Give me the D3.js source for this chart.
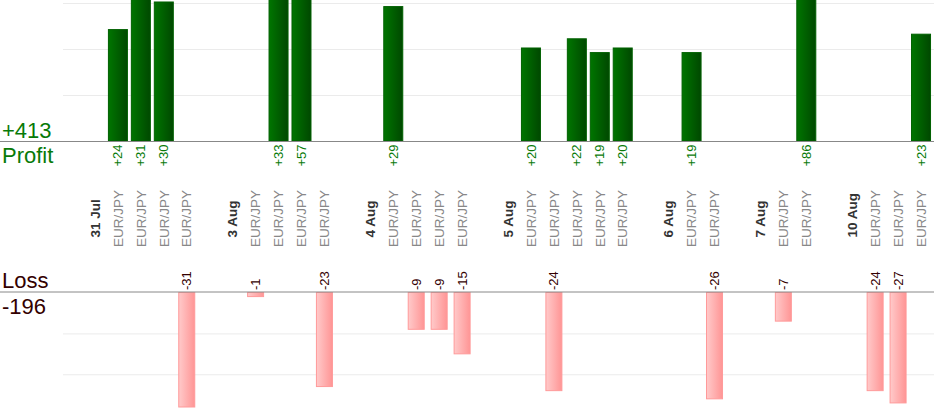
<!DOCTYPE html>
<html>
<head>
<meta charset="utf-8">
<script src="https://cdn.jsdelivr.net/npm/d3@7"></script>
<style>
  html, body { margin: 0; padding: 0; background: #fff; }
  svg { display: block; font-family: "Liberation Sans", Arial, sans-serif; }
</style>
</head>
<body>
<div id="chart"></div>
<script>
// one slot per column: date header, trades, empty spacer
const slotLabels = [
    '31 Jul', 'EUR/JPY', 'EUR/JPY', 'EUR/JPY', 'EUR/JPY', '',
    '3 Aug', 'EUR/JPY', 'EUR/JPY', 'EUR/JPY', 'EUR/JPY', '',
    '4 Aug', 'EUR/JPY', 'EUR/JPY', 'EUR/JPY', 'EUR/JPY', '',
    '5 Aug', 'EUR/JPY', 'EUR/JPY', 'EUR/JPY', 'EUR/JPY', 'EUR/JPY', '',
    '6 Aug', 'EUR/JPY', 'EUR/JPY', '',
    '7 Aug', 'EUR/JPY', 'EUR/JPY', '',
    '10 Aug', 'EUR/JPY', 'EUR/JPY', 'EUR/JPY'
]

// result of each trade (null = no trade in this slot)
const results = [
    null, 24, 31, 30, -31, null,
    null, -1, 33, 57, -23, null,
    null, 29, -9, -9, -15, null,
    null, 20, -24, 22, 19, 20, null,
    null, 19, -26, null,
    null, -7, 86, null,
    null, -24, -27, 23
]

const profitTicks = [10, 20, 30]
const lossTicks = [10, 20]

const width = 934
const height = 420

const svg = d3.select('#chart')
    .append('svg')
    .attr('width', width)
    .attr('height', height)

////////////////////////////////////
//////////////scales////////////////
////////////////////////////////////
const xScale = d3.scaleBand()
    .domain(d3.range(slotLabels.length))
    .range([83.5, 932.5])

const profitY = d3.scaleLinear()
    .domain([0, 30.65])
    .range([141, 0])
    .clamp(true)

const lossY = d3.scaleLinear()
    .domain([0, 28])
    .range([292.5, 407])
    .clamp(true)

const trades = results.map((v, i) => ({ i, v })).filter(d => d.v !== null)
const profits = trades.filter(d => d.v > 0)
const losses = trades.filter(d => d.v < 0)

////////////////////////////////////
/////////////gradients//////////////
////////////////////////////////////
const defs = svg.append('defs')
const gProfit = defs.append('linearGradient').attr('id', 'gProfit')
gProfit.append('stop').attr('offset', '0%').attr('stop-color', '#007500')
gProfit.append('stop').attr('offset', '100%').attr('stop-color', '#004800')
const gLoss = defs.append('linearGradient').attr('id', 'gLoss')
gLoss.append('stop').attr('offset', '0%').attr('stop-color', '#ffcaca')
gLoss.append('stop').attr('offset', '100%').attr('stop-color', '#ff9595')

////////////////////////////////////
///////////// grid /////////////////
////////////////////////////////////
svg.append('g')
    .attr('transform', 'translate(63,0)')
    .call(d3.axisLeft(profitY).tickValues(profitTicks).tickSize(-(width - 63)).tickFormat(''))
    .call(g => g.select('.domain').remove())
    .call(g => g.selectAll('line').attr('stroke', '#ebebeb'))

svg.append('g')
    .attr('transform', 'translate(63,0)')
    .call(d3.axisLeft(lossY).tickValues(lossTicks).tickSize(-(width - 63)).tickFormat(''))
    .call(g => g.select('.domain').remove())
    .call(g => g.selectAll('line').attr('stroke', '#ebebeb'))

////////////////////////////////////
/////////////// bars ///////////////
////////////////////////////////////
const pw = 19
const lw = 16

svg.selectAll('.profit')
    .data(profits)
    .join('rect')
    .attr('class', 'profit')
    .attr('x', d => xScale(d.i) + xScale.bandwidth() / 2 - pw / 2)
    .attr('width', pw)
    .attr('y', d => profitY(d.v) - 1)
    .attr('height', d => profitY(0) - profitY(d.v) + 1)
    .attr('fill', 'url(#gProfit)')
    .attr('stroke', '#006000')
    .attr('stroke-width', 1)

svg.selectAll('.loss')
    .data(losses)
    .join('rect')
    .attr('class', 'loss')
    .attr('x', d => xScale(d.i) + xScale.bandwidth() / 2 - lw / 2)
    .attr('width', lw)
    .attr('y', lossY(0))
    .attr('height', d => lossY(-d.v) - lossY(0))
    .attr('fill', 'url(#gLoss)')
    .attr('stroke', '#ff9a9a')
    .attr('stroke-width', 1)

// baselines
svg.append('line')
    .attr('x1', 0).attr('x2', width)
    .attr('y1', profitY(0) + 0.5).attr('y2', profitY(0) + 0.5)
    .attr('stroke', '#888')
svg.append('line')
    .attr('x1', 0).attr('x2', width)
    .attr('y1', lossY(0) - 0.5).attr('y2', lossY(0) - 0.5)
    .attr('stroke', '#888')

////////////////////////////////////
/////////////// labels /////////////
////////////////////////////////////
const cx = i => xScale(i) + xScale.bandwidth() / 2

svg.selectAll('.plabel')
    .data(profits)
    .join('text')
    .attr('class', 'plabel')
    .attr('transform', d => `translate(${cx(d.i)},144.5) rotate(-90)`)
    .attr('dy', '0.35em')
    .attr('text-anchor', 'end')
    .attr('font-size', 13)
    .attr('fill', '#087a08')
    .text(d => '+' + d.v)

svg.selectAll('.llabel')
    .data(losses)
    .join('text')
    .attr('class', 'llabel')
    .attr('transform', d => `translate(${cx(d.i)},290) rotate(-90)`)
    .attr('dy', '0.35em')
    .attr('text-anchor', 'start')
    .attr('font-size', 13)
    .attr('fill', '#330000')
    .text(d => d.v)

const slots = slotLabels.map((t, i) => ({ t, i })).filter(d => d.t !== '')

svg.selectAll('.slot')
    .data(slots)
    .join('text')
    .attr('class', 'slot')
    .attr('transform', d => `translate(${cx(d.i)},${d.t === 'EUR/JPY' ? 247 : 237.5}) rotate(-90)`)
    .attr('dy', '0.35em')
    .attr('text-anchor', 'start')
    .attr('font-size', 13.5)
    .attr('font-weight', d => d.t === 'EUR/JPY' ? 'normal' : 'bold')
    .attr('fill', d => d.t === 'EUR/JPY' ? '#888' : '#333')
    .text(d => d.t)

// totals
const totalProfit = d3.sum(profits, d => d.v)
const totalLoss = d3.sum(losses, d => d.v)

svg.append('text')
    .attr('x', 2).attr('y', 137.5)
    .attr('font-size', 22)
    .attr('fill', '#087a08')
    .text('+' + totalProfit)
svg.append('text')
    .attr('x', 2).attr('y', 162.5)
    .attr('font-size', 22)
    .attr('fill', '#087a08')
    .text('Profit')
svg.append('text')
    .attr('x', 2).attr('y', 288)
    .attr('font-size', 22)
    .attr('fill', '#330000')
    .text('Loss')
svg.append('text')
    .attr('x', 2).attr('y', 314)
    .attr('font-size', 22)
    .attr('fill', '#330000')
    .text(totalLoss)
</script>
</body>
</html>
